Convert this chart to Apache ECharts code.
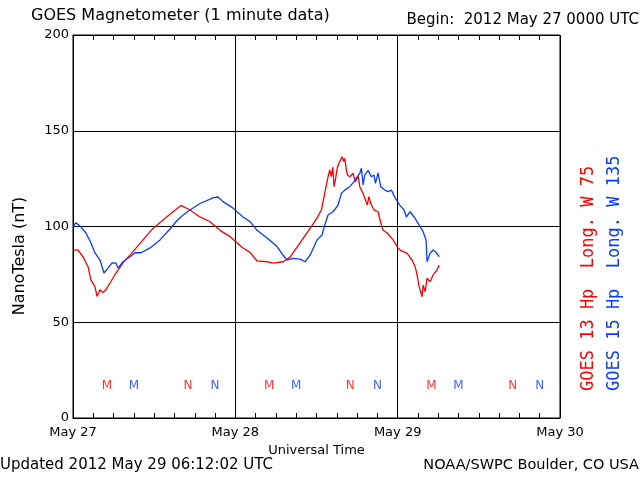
<!DOCTYPE html>
<html><head><meta charset="utf-8">
<script src="https://cdn.jsdelivr.net/npm/echarts@6/dist/echarts.min.js"></script>
<style>html,body{margin:0;padding:0;background:#fff}#c{width:640px;height:480px}</style>
</head><body><div id="c"></div>
<script>
// x values are hours since 2012 May 27 00:00 UTC
const dayLabels = ['May 27', 'May 28', 'May 29', 'May 30'];
const yTickValues = [0, 50, 100, 150, 200];

const g13Hours = [0.0,0.74,1.48,2.22,2.66,3.25,3.55,3.99,4.44,4.88,5.47,6.36,7.39,8.87,10.35,11.83,13.31,14.79,15.97,17.30,18.78,20.26,21.74,23.22,23.96,25.14,26.18,27.21,28.69,29.58,31.06,32.09,33.57,35.05,36.08,36.72,37.12,37.31,37.71,37.96,38.20,38.41,38.60,38.79,39.09,39.44,39.78,40.03,40.18,40.42,40.57,40.92,41.41,41.75,42.15,42.40,42.89,43.23,43.52,43.73,44.11,44.51,45.10,45.59,45.84,46.44,47.32,48.06,48.36,49.39,50.13,50.58,50.87,51.17,51.61,51.76,52.06,52.35,52.79,53.24,53.83,54.13];
const g13Values = [87.7,87.7,84.2,79,72,68.6,63.5,67,65.5,67,70.5,75.7,81,86.9,93,99,103.4,107.7,111,108.6,105,102.5,98,94.7,92.4,88.8,86.5,82,81.6,80.9,81.6,84,91.4,99,104.4,108.6,115.6,119,126,129.5,126,131,120.8,124.3,131,133.9,136.4,133.9,135.6,129.5,126.9,126,127.8,123.4,126.4,120.8,117.3,113.8,111.2,115.6,111.2,108.6,107.7,100.8,98,96.6,93,88.8,87.7,86,82.5,79,74.7,68.6,63.3,69.4,66,73,71.2,74.7,77.3,79.9];

const g15Hours = [0.0,0.44,1.18,1.92,2.66,3.25,3.99,4.58,5.18,5.77,6.36,6.65,7.39,8.58,9.17,10.06,11.39,12.87,14.34,15.23,16.27,17.30,18.78,20.70,21.44,22.18,23.66,25.14,26.18,27.21,28.69,30.17,31.06,31.65,32.53,33.57,34.31,35.05,36.08,36.82,37.22,37.71,38.45,39.19,39.68,40.18,40.92,41.56,42.04,42.40,42.64,42.89,43.14,43.63,43.88,44.11,44.51,44.71,45.10,45.50,46.10,46.58,47.07,47.66,48.31,48.95,49.29,49.84,50.58,51.32,51.76,52.20,52.35,52.79,53.24,53.83,54.13];
const g15Values = [99.9,102,99.7,96.6,91.4,86.2,82.5,75.7,78.3,81,80.9,78.3,81.6,84.6,86.3,86.3,88.8,93,98.7,102.5,106,108.6,112,114.9,115.4,113,109.6,105,102.5,98,94,89.5,85,82.5,83.4,83,81.6,85,93,95.6,100.8,106,107.7,111.2,117.3,119,120.8,123.4,126,127.8,130.4,121.7,126.9,129.3,128.6,126,126.9,122.5,128,120.8,119,118.2,119,114.7,111.2,108.6,105,107.7,104.2,99.9,97.3,93,81.6,86,87.7,86,84.2];

// local midnight (M) and noon (N) markers
const markerLevel = 17;
const g13MHours = [5, 29, 53];
const g13NHours = [17, 41, 65];
const g15MHours = [9, 33, 57];
const g15NHours = [21, 45, 69];

const RED = '#ff0000';
const BLUE = '#0a3cff';
const FONT = 'DejaVu Sans';

const zip = (xs, ys) => xs.map((x, i) => [x, ys[i]]);
const marks = (hrs, txt, col) => ({
  type: 'scatter', silent: true, symbolSize: 0,
  data: hrs.map(h => [h, markerLevel]),
  label: { show: true, formatter: txt, position: 'inside', color: col, fontFamily: FONT, fontSize: 12 }
});

const chart = echarts.init(document.getElementById('c'), null, { renderer: 'canvas' });
const axisCommon = {
  type: 'value', min: 0, max: 72, interval: 24,
  axisLine: { show: true, lineStyle: { color: '#000', width: 1 } },
  axisTick: { show: true, inside: true, length: 5, lineStyle: { color: '#000' } },
  minorTick: { show: true, splitNumber: 8, length: 5, lineStyle: { color: '#000' } },
};
chart.setOption({
  backgroundColor: '#fff',
  animation: false,
  grid: { left: 73, right: 80, top: 35, bottom: 62, show: true, borderColor: '#000', borderWidth: 1, backgroundColor: '#fff' },
  xAxis: [
    Object.assign({}, axisCommon, {
      position: 'bottom',
      splitLine: { show: true, lineStyle: { color: '#000', width: 1 } },
      axisLabel: { color: '#000', fontFamily: FONT, fontSize: 13, margin: 8,
        formatter: v => dayLabels[Math.round(v / 24)] },
      name: 'Universal Time', nameLocation: 'middle', nameGap: 26,
      nameTextStyle: { color: '#000', fontFamily: FONT, fontSize: 13 }
    }),
    Object.assign({}, axisCommon, {
      position: 'top',
      splitLine: { show: false },
      axisLabel: { show: false }
    })
  ],
  yAxis: {
    type: 'value', min: yTickValues[0], max: yTickValues[yTickValues.length - 1], interval: 50,
    axisLine: { show: true, lineStyle: { color: '#000' } },
    axisTick: { show: false },
    splitLine: { show: true, lineStyle: { color: '#000', width: 1 } },
    axisLabel: { color: '#000', fontFamily: FONT, fontSize: 13, margin: 4 }
  },
  series: [
    { name: 'GOES 13', type: 'line', data: zip(g13Hours, g13Values), showSymbol: false, silent: true,
      lineStyle: { color: RED, width: 1.3 }, itemStyle: { color: RED } },
    { name: 'GOES 15', type: 'line', data: zip(g15Hours, g15Values), showSymbol: false, silent: true,
      lineStyle: { color: BLUE, width: 1.3 }, itemStyle: { color: BLUE } },
    marks(g13MHours, 'M', RED),
    marks(g13NHours, 'N', RED),
    marks(g15MHours, 'M', BLUE),
    marks(g15NHours, 'N', BLUE)
  ],
  graphic: [
    { type: 'text', left: 31, top: 8, style: { text: 'GOES Magnetometer (1 minute data)', fill: '#000', font: '16px "DejaVu Sans"' } },
    { type: 'text', right: 1, top: 13, style: { text: 'Begin:  2012 May 27 0000 UTC', fill: '#000', font: '15px "DejaVu Sans"' } },
    { type: 'text', left: 0, top: 458, style: { text: 'Updated 2012 May 29 06:12:02 UTC', fill: '#000', font: '15px "DejaVu Sans"' } },
    { type: 'text', right: 1, top: 458, style: { text: 'NOAA/SWPC Boulder, CO USA', fill: '#000', font: '14.5px "DejaVu Sans"' } },
    { type: 'text', x: 20, y: 256, rotation: Math.PI / 2,
      style: { text: 'NanoTesla (nT)', fill: '#000', font: '16px "DejaVu Sans"', textAlign: 'center', textVerticalAlign: 'middle' } },
    { type: 'text', x: 589, y: 391, rotation: Math.PI / 2,
      style: { text: 'GOES 13 Hp  Long. W 75', fill: RED, font: '17px "DejaVu Sans Mono"', textAlign: 'left', textVerticalAlign: 'middle' } },
    { type: 'text', x: 615, y: 391, rotation: Math.PI / 2,
      style: { text: 'GOES 15 Hp  Long. W 135', fill: BLUE, font: '17px "DejaVu Sans Mono"', textAlign: 'left', textVerticalAlign: 'middle' } }
  ]
});
</script>
</body></html>
